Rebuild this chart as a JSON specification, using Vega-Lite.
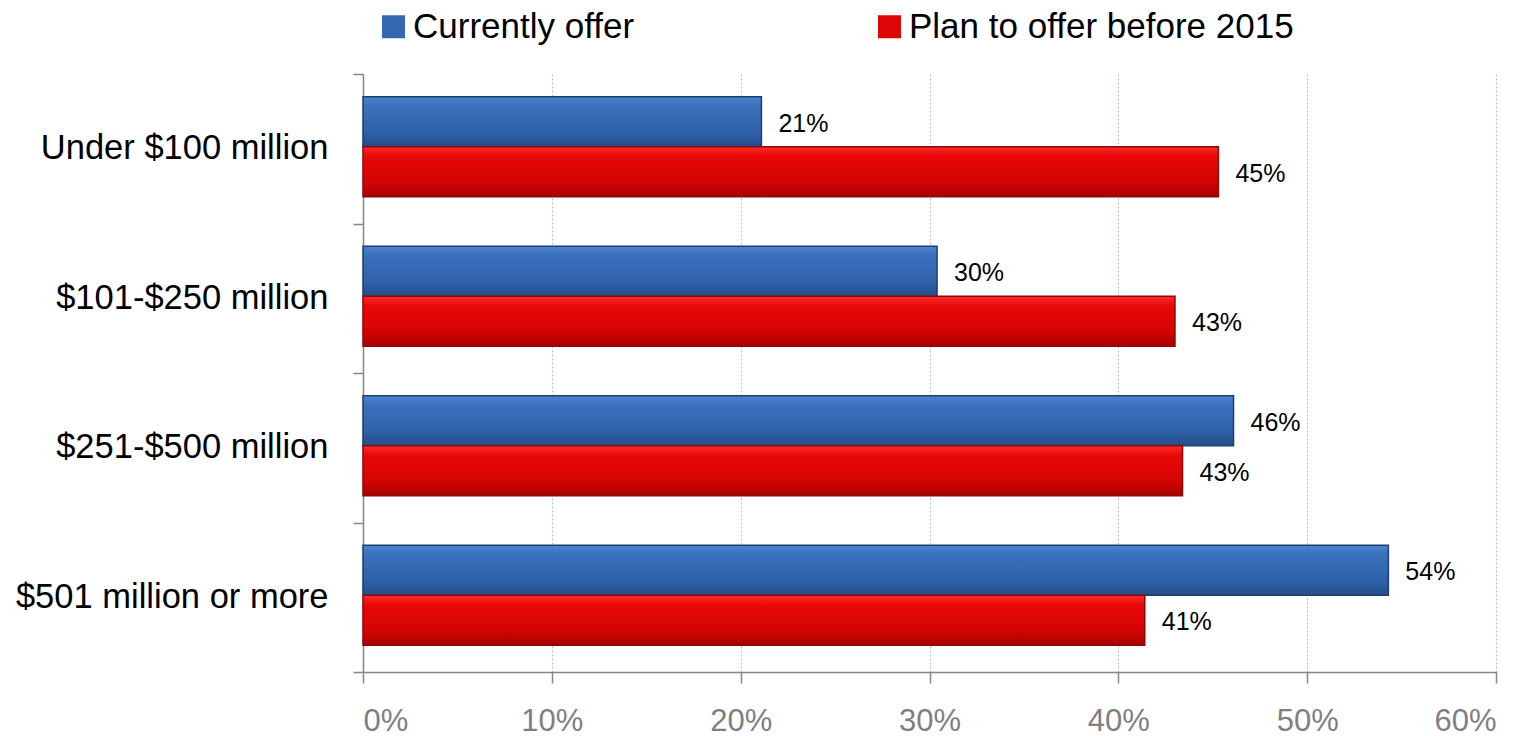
{
  "$schema": "https://vega.github.io/schema/vega-lite/v6.json",
  "autosize": {"type": "none"},
  "padding": {"left": 363, "top": 74, "right": 41, "bottom": 64},
  "width": 1133,
  "height": 598,
  "background": "white",
  "config": {
    "view": {"stroke": null},
    "font": "Liberation Sans"
  },
  "data": {
    "values": [
      {"cat": "Under $100 million", "series": "Currently offer", "v": 0.211},
      {"cat": "Under $100 million", "series": "Plan to offer before 2015", "v": 0.453},
      {"cat": "$101-$250 million", "series": "Currently offer", "v": 0.304},
      {"cat": "$101-$250 million", "series": "Plan to offer before 2015", "v": 0.430},
      {"cat": "$251-$500 million", "series": "Currently offer", "v": 0.461},
      {"cat": "$251-$500 million", "series": "Plan to offer before 2015", "v": 0.434},
      {"cat": "$501 million or more", "series": "Currently offer", "v": 0.543},
      {"cat": "$501 million or more", "series": "Plan to offer before 2015", "v": 0.414}
    ]
  },
  "encoding": {
    "y": {
      "field": "cat",
      "type": "nominal",
      "sort": ["Under $100 million", "$101-$250 million", "$251-$500 million", "$501 million or more"],
      "scale": {"paddingInner": 0, "paddingOuter": 0},
      "axis": {
        "title": null,
        "labelFont": "Liberation Sans",
        "labelFontSize": 34.5,
        "labelColor": "#000000",
        "tickBand": "extent",
        "tickSize": 10,
        "labelPadding": 25,
        "domainColor": "#868686",
        "tickColor": "#868686",
        "domainWidth": 1.5,
        "tickWidth": 1.5,
        "grid": false,
        "labelLimit": 400
      }
    },
    "yOffset": {
      "field": "series",
      "type": "nominal",
      "scale": {"domain": ["Currently offer", "Plan to offer before 2015"], "paddingInner": 0, "paddingOuter": 0.495, "align": 0.46}
    },
    "x": {
      "field": "v",
      "type": "quantitative",
      "scale": {"domain": [0, 0.6], "nice": false},
      "axis": {
        "title": null,
        "format": ".0%",
        "values": [0, 0.1, 0.2, 0.3, 0.4, 0.5, 0.6],
        "grid": true,
        "gridDash": [2, 2],
        "gridColor": "#a9bcd9",
        "gridWidth": 1,
        "tickSize": 11,
        "tickColor": "#868686",
        "tickWidth": 1.5,
        "domainColor": "#868686",
        "domainWidth": 1.5,
        "labelFont": "Liberation Sans",
        "labelFontSize": 31,
        "labelColor": "#7f7f7f",
        "labelPadding": 23
      }
    }
  },
  "layer": [
    {
      "mark": {"type": "bar"},
      "encoding": {
        "color": {
          "field": "series",
          "type": "nominal",
          "scale": {"domain": ["Currently offer", "Plan to offer before 2015"], "range": ["#3568b3", "#dd0606"]},
          "legend": {
            "title": null,
            "orient": "none",
            "direction": "horizontal",
            "legendX": 13,
            "legendY": -65,
            "symbolType": "square",
            "symbolSize": 529,
            "symbolStrokeWidth": 1,
            "labelFont": "Liberation Sans",
            "labelFontSize": 35,
            "labelColor": "#000000",
            "labelOffset": 2,
            "columnPadding": 237,
            "labelLimit": 600
          }
        }
      }
    },
    {
      "transform": [{"filter": "datum.series === 'Currently offer'"}],
      "mark": {
        "type": "bar",
        "stroke": "#1e3f70",
        "strokeWidth": 1.5,
        "fill": {
          "gradient": "linear",
          "x1": 0, "y1": 0, "x2": 0, "y2": 1,
          "stops": [
            {"offset": 0, "color": "#4a84d0"},
            {"offset": 0.2, "color": "#3a70bc"},
            {"offset": 0.7, "color": "#2f62aa"},
            {"offset": 1, "color": "#244d8a"}
          ]
        }
      }
    },
    {
      "transform": [{"filter": "datum.series === 'Plan to offer before 2015'"}],
      "mark": {
        "type": "bar",
        "stroke": "#8a0a0a",
        "strokeWidth": 1.5,
        "fill": {
          "gradient": "linear",
          "x1": 0, "y1": 0, "x2": 0, "y2": 1,
          "stops": [
            {"offset": 0, "color": "#ff2a2a"},
            {"offset": 0.2, "color": "#e80808"},
            {"offset": 0.7, "color": "#d40404"},
            {"offset": 1, "color": "#a80000"}
          ]
        }
      }
    },
    {
      "mark": {"type": "text", "align": "left", "baseline": "middle", "dx": 17, "dy": 2, "font": "Liberation Sans", "fontSize": 25, "color": "#000000"},
      "encoding": {
        "text": {"field": "v", "type": "quantitative", "format": ".0%"}
      }
    }
  ]
}
